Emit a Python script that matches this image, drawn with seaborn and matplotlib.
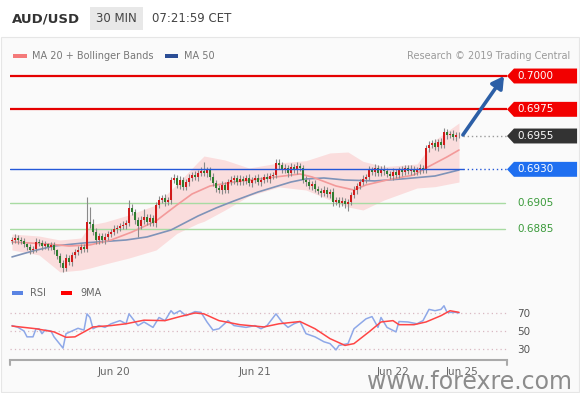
import matplotlib
matplotlib.use("Agg")
import matplotlib.pyplot as plt
import matplotlib.transforms as mtransforms
from matplotlib.patches import Polygon, Rectangle
import numpy as np
import pandas as pd
import seaborn as sns

# image size in pixels
W, H = 580, 393

# 30 min closes
closes = [
    0.68770, 0.68785, 0.68770, 0.68763, 0.68740, 0.68718, 0.68695, 0.68703, 0.68755, 0.68748,
    0.68725, 0.68740, 0.68718, 0.68733, 0.68695, 0.68650, 0.68598, 0.68560, 0.68635, 0.68605,
    0.68658, 0.68680, 0.68695, 0.68718, 0.68703, 0.68905, 0.68890, 0.68830, 0.68770, 0.68800,
    0.68770, 0.68793, 0.68815, 0.68830, 0.68853, 0.68860, 0.68875, 0.68883, 0.68898, 0.69010,
    0.68980, 0.68920, 0.68875, 0.68920, 0.68943, 0.68905, 0.68935, 0.68898, 0.69033, 0.69070,
    0.69085, 0.69055, 0.69070, 0.69220, 0.69235, 0.69183, 0.69220, 0.69168, 0.69205, 0.69235,
    0.69258, 0.69243, 0.69273, 0.69288, 0.69273, 0.69295, 0.69243, 0.69198, 0.69160, 0.69145,
    0.69183, 0.69145, 0.69205, 0.69220, 0.69235, 0.69205, 0.69228, 0.69213, 0.69235, 0.69198,
    0.69220, 0.69235, 0.69205, 0.69220, 0.69243, 0.69228, 0.69250, 0.69258, 0.69348, 0.69333,
    0.69295, 0.69310, 0.69273, 0.69318, 0.69295, 0.69325, 0.69310, 0.69220, 0.69205, 0.69175,
    0.69190, 0.69153, 0.69138, 0.69123, 0.69145, 0.69115, 0.69130, 0.69055, 0.69070, 0.69048,
    0.69063, 0.69040, 0.69055, 0.69108, 0.69145, 0.69175, 0.69205, 0.69228, 0.69243, 0.69295,
    0.69280, 0.69310, 0.69273, 0.69303, 0.69288, 0.69265, 0.69250, 0.69280, 0.69258, 0.69295,
    0.69280, 0.69310, 0.69288, 0.69303, 0.69280, 0.69295, 0.69310, 0.69295, 0.69460, 0.69483,
    0.69498, 0.69468, 0.69505, 0.69483, 0.69580, 0.69558, 0.69565, 0.69543, 0.69558, 0.69558,
]
first_open = 0.68763

# wick length beyond the body, in pips
wick_up = [
    2, 3, 2, 2, 2, 1, 2, 2, 3, 2,  2, 2, 1, 2, 2, 1, 2, 2, 3, 2,
    2, 2, 3, 2, 2, 19, 11, 4, 3, 2,  2, 3, 2, 2, 3, 2, 2, 3, 2, 6,
    3, 2, 2, 3, 6, 2, 3, 2, 2, 3,  2, 3, 2, 2, 3, 2, 3, 2, 2, 3,
    2, 3, 2, 3, 7, 2, 2, 3, 2, 2,  3, 2, 2, 3, 2, 2, 3, 2, 2, 3,
    2, 2, 3, 2, 2, 3, 2, 2, 3, 3,  2, 3, 2, 3, 2, 3, 2, 2, 3, 2,
    2, 3, 2, 2, 3, 2, 2, 3, 2, 2,  3, 2, 2, 2, 3, 2, 2, 3, 2, 3,
    2, 3, 2, 2, 3, 2, 2, 3, 2, 2,  3, 2, 2, 3, 2, 2, 3, 2, 2, 3,
    2, 3, 2, 3, 3, 2, 2, 3, 2, 2,
]
wick_dn = [
    2, 2, 3, 2, 2, 2, 3, 2, 2, 2,  3, 2, 2, 2, 3, 2, 3, 3, 2, 2,
    3, 2, 2, 2, 2, 2, 3, 2, 3, 3,  2, 3, 2, 2, 2, 3, 2, 2, 3, 2,
    2, 3, 8, 2, 3, 2, 3, 2, 3, 2,  2, 3, 2, 3, 2, 2, 3, 2, 2, 3,
    2, 2, 3, 2, 2, 3, 2, 2, 3, 2,  3, 2, 2, 2, 3, 2, 2, 3, 2, 2,
    3, 2, 2, 3, 2, 2, 3, 2, 2, 3,  2, 2, 3, 2, 2, 3, 2, 2, 3, 2,
    3, 2, 2, 3, 2, 2, 3, 3, 2, 3,  2, 3, 5, 2, 2, 3, 2, 2, 3, 2,
    2, 3, 2, 2, 3, 2, 2, 3, 2, 2,  3, 2, 2, 3, 2, 2, 3, 2, 2, 3,
    2, 2, 3, 2, 2, 3, 2, 2, 3, 2,
]

# bollinger bands (bar index, upper, lower)
band_bar = [0, 9, 16, 23, 26, 31, 39, 48, 55, 62, 64, 71, 79, 89, 98, 106, 112, 117, 124, 135, 141, 149]
band_upper = [0.68815, 0.68800, 0.68770, 0.68785, 0.68883, 0.68905, 0.68958, 0.69033, 0.69190, 0.69355, 0.69400,
              0.69370, 0.69310, 0.69348, 0.69365, 0.69423, 0.69430, 0.69360, 0.69320, 0.69340, 0.69520, 0.69648]
band_lower = [0.68695, 0.68658, 0.68530, 0.68545, 0.68560, 0.68590, 0.68635, 0.68695, 0.68820, 0.68895, 0.68910,
              0.68995, 0.69100, 0.69168, 0.69145, 0.69070, 0.69018, 0.68995, 0.69070, 0.69160, 0.69170, 0.69205]

ma20_bar = [0, 12, 19, 26, 33, 40, 48, 55, 60, 66, 74, 85, 96, 100, 108, 114, 118, 125, 134, 138, 145, 149]
ma20 = [0.68755, 0.68740, 0.68725, 0.68733, 0.68770, 0.68830, 0.68913, 0.69033, 0.69115, 0.69175, 0.69205,
        0.69235, 0.69265, 0.69243, 0.69175, 0.69145, 0.69183, 0.69220, 0.69258, 0.69310, 0.69393, 0.69445]

ma50_bar = [0, 7, 14, 24, 38, 45, 53, 62, 68, 74, 82, 93, 98, 104, 111, 121, 130, 141, 149]
ma50 = [0.68643, 0.68688, 0.68725, 0.68748, 0.68770, 0.68793, 0.68845, 0.68950, 0.69010, 0.69063, 0.69130,
        0.69205, 0.69228, 0.69235, 0.69220, 0.69213, 0.69228, 0.69250, 0.69295]

rsi_bar = [0, 2, 4, 5, 7, 8, 9, 10, 11, 13, 14, 17, 18, 20, 22, 24, 25, 26, 27, 29, 31, 33, 36, 38, 39,
           42, 44, 47, 49, 51, 53, 54, 56, 58, 61, 63, 65, 67, 69, 72, 74, 78, 81, 83, 85, 88, 90, 92, 94,
           96, 98, 101, 104, 106, 108, 109, 112, 114, 116, 118, 120, 122, 123, 125, 128, 129, 132, 135,
           137, 139, 141, 143, 144, 145, 148, 149]
rsi = [56, 54, 50, 43.5, 43.5, 52.5, 52.5, 47, 51, 50, 43.5, 31, 47, 50, 53, 51, 69, 65, 52.5, 56, 54, 58,
       61.5, 58, 69, 56, 60, 54, 65, 61.5, 72.5, 69, 72.5, 67, 71.5, 70.7, 60, 51, 52.5, 61.5, 56, 54, 56,
       52.5, 56, 69, 60, 54, 58, 60.5, 47, 43.5, 38, 36, 29, 34, 36, 52.5, 58, 63.5, 66, 54, 65, 54, 49,
       60.5, 60, 58, 61.5, 74, 72.5, 74, 78, 70.7, 70.7, 70]

rsi_ma_bar = [0, 8, 14, 18, 21, 24, 27, 33, 38, 44, 51, 56, 61, 64, 69, 76, 84, 89, 96, 101, 106, 111, 114,
              119, 123, 127, 129, 134, 138, 143, 146, 149]
rsi_ma = [55.5, 52.5, 49, 43, 43.5, 49, 54.5, 56, 58, 62, 61.5, 66, 70, 69, 61.5, 57, 54.5, 58, 60.5, 52.5,
          41.5, 34, 36, 49, 60, 61.5, 57, 57, 60, 67, 72.5, 70.7]

levels = [0.7000, 0.6975, 0.6955, 0.6930, 0.6905, 0.6885]
level_kind = ["res", "res", "last", "pivot", "sup", "sup"]
rsi_levels = [30, 50, 70]
date_ticks = [34, 81, 127, 150]
date_labels = ["Jun 20", "Jun 21", "Jun 22", "Jun 25"]


def fbox(x0, y0, x1, y1):
    # pixel box (top-left origin) -> figure fraction
    return [x0 / W, 1 - y1 / H, (x1 - x0) / W, (y1 - y0) / H]


def fx(x):
    return x / W


def fy(y):
    return 1 - y / H


def frect(x0, y0, x1, y1, **kw):
    fig.patches.append(Rectangle((fx(x0), fy(y1)), (x1 - x0) / W, (y1 - y0) / H,
                                 transform=fig.transFigure, **kw))


sns.set_style("white")
plt.rcParams["font.family"] = ["DejaVu Sans"]

fig = plt.figure(figsize=(W / 100, H / 100), dpi=100)
fig.patch.set_facecolor("white")
frect(1, 37, 579, 392, facecolor="#fafafa", edgecolor="#e6e6e6", lw=0.8, zorder=-5)

# header
fig.text(fx(12), fy(19), "AUD/USD", weight="bold", size=9.5, color="#333333", va="center")
frect(90, 7, 143, 30, facecolor="#e8e8e8", edgecolor="none", zorder=-4)
fig.text(fx(116.5), fy(19), "30 MIN", size=8.5, color="#444444", ha="center", va="center")
fig.text(fx(152), fy(19), "07:21:59 CET", size=8.5, color="#444444", va="center")

# legend row
frect(13, 54, 27, 58, facecolor="#f47a7a", edgecolor="none")
fig.text(fx(32), fy(56), "MA 20 + Bollinger Bands", size=7, color="#777777", va="center")
frect(165, 54, 178, 58, facecolor="#2c4e96", edgecolor="none")
fig.text(fx(184), fy(56), "MA 50", size=7, color="#777777", va="center")
fig.text(fx(570), fy(56), "Research \u00a9 2019 Trading Central", size=7, color="#9a9a9a", ha="right", va="center")

# ---- price panel ----
ax = fig.add_axes(fbox(10, 62, 507, 280))
ax.set_zorder(2)
ax.set_facecolor("none")
xlim = (-0.667, 165.0)   # 3 px per bar
ax.set_xlim(*xlim)
ax.set_ylim(0.68470, 0.70105)
ax.set_axis_off()

df = pd.DataFrame({"close": closes})
df["open"] = [first_open] + closes[:-1]
df["bar"] = np.arange(len(df))
df["up"] = df["close"] >= df["open"]
df["top"] = df[["open", "close"]].max(axis=1)
df["bot"] = df[["open", "close"]].min(axis=1)
df["high"] = df["top"] + np.array(wick_up) * 0.0001
df["low"] = df["bot"] - np.array(wick_dn) * 0.0001

ax.fill_between(band_bar, band_lower, band_upper, color="#fbd6d6", alpha=0.8, lw=0, zorder=1)
sns.lineplot(x=ma50_bar, y=ma50, ax=ax, color="#7f93b8", lw=1.2, zorder=2)
sns.lineplot(x=ma20_bar, y=ma20, ax=ax, color="#f39a9a", lw=1.2, zorder=2)

ax.vlines(df["bar"], df["low"], df["high"], color="#8a8a8a", lw=0.8, zorder=3)
ax.bar(df["bar"], np.maximum(df["top"] - df["bot"], 0.00003), bottom=df["bot"], width=0.72,
       color=np.where(df["up"], "#d11a1a", "#2f7d2f"), lw=0, zorder=4)

trans = mtransforms.blended_transform_factory(ax.transAxes, ax.transData)
last_frac = (len(closes) + 0.3 - xlim[0]) / (xlim[1] - xlim[0])
half = 0.00056


def tag(level, color):
    pts = [(1.0, level), (1.014, level + half), (1.141, level + half),
           (1.141, level - half), (1.014, level - half)]
    ax.add_patch(Polygon(pts, closed=True, transform=trans, facecolor=color,
                         edgecolor="none", clip_on=False, zorder=6))
    ax.text(1.02, level, f"{level:.4f}", transform=trans, color="white", size=7.5,
            va="center", ha="left", zorder=7, clip_on=False)


for lv, kind in zip(levels, level_kind):
    if kind == "res":
        ax.axhline(lv, color="#e50000", lw=1.6, zorder=5)
        tag(lv, "#f20000")
    elif kind == "last":
        ax.axhline(lv, xmin=last_frac, color="#9a9a9a", lw=1, ls=(0, (1, 2)), zorder=5)
        tag(lv, "#333333")
    elif kind == "pivot":
        ax.axhline(lv, xmax=last_frac, color="#2458d8", lw=1, zorder=5)
        ax.axhline(lv, xmin=last_frac, color="#2458d8", lw=1, ls=(0, (1, 2)), zorder=5)
        tag(lv, "#1f6ff0")
    else:
        ax.axhline(lv, xmax=0.996, color="#a8dba2", lw=1, zorder=1.5)
        ax.text(1.02, lv, f"{lv:.4f}", transform=trans, color="#3a9a3a", size=7.5,
                va="center", ha="left", clip_on=False)

ax.annotate("", xy=(0.994, levels[0]), xycoords=("axes fraction", "data"),
            xytext=(len(closes) + 0.3, closes[-1]), textcoords="data",
            arrowprops=dict(arrowstyle="-|>,head_length=0.7,head_width=0.4", lw=2.6,
                            color="#2c5fa6", shrinkA=0, shrinkB=0), zorder=8)

# ---- RSI panel ----
frect(12, 291, 23, 295, facecolor="#5a84e3", edgecolor="none")
fig.text(fx(30), fy(293), "RSI", size=7, color="#666666", va="center")
frect(61, 291, 72, 295, facecolor="#ff0000", edgecolor="none")
fig.text(fx(80), fy(293), "9MA", size=7, color="#666666", va="center")

ax2 = fig.add_axes(fbox(10, 300, 507, 360))
ax2.set_zorder(2)
ax2.set_facecolor("none")
ax2.set_xlim(*xlim)
ax2.set_ylim(17.8, 84.4)
for v in rsi_levels:
    ax2.axhline(v, color="#d9b8c2", lw=0.9, ls=(0, (1, 2.5)), zorder=1)
sns.lineplot(x=rsi_bar, y=rsi, ax=ax2, color="#8ea8e8", lw=1.1, zorder=2)
sns.lineplot(x=rsi_ma_bar, y=rsi_ma, ax=ax2, color="#ff4545", lw=1.1, zorder=3)

for s in ["top", "left", "right"]:
    ax2.spines[s].set_visible(False)
ax2.spines["bottom"].set_color("#aaaaaa")
ax2.spines["bottom"].set_linewidth(1.5)
for xe in (0, 1):
    ax2.plot([xe, xe], [0, -0.08], transform=ax2.transAxes, color="#aaaaaa", lw=1.5, clip_on=False)
ax2.yaxis.tick_right()
ax2.set_yticks(rsi_levels)
ax2.set_xticks(date_ticks, date_labels)
ax2.tick_params(axis="y", length=0, pad=7, labelsize=7.5, labelcolor="#555555")
ax2.tick_params(axis="x", length=0, pad=5, labelsize=7.5, labelcolor="#666666")
ax2.set_xlabel("")
ax2.set_ylabel("")

wm = fig.text(fx(572), fy(382), "www.forexre.com", size=17, color="#8c8c8c", ha="right", va="center")
wm.set_zorder(5)

fig.savefig("out.png", dpi=100)
